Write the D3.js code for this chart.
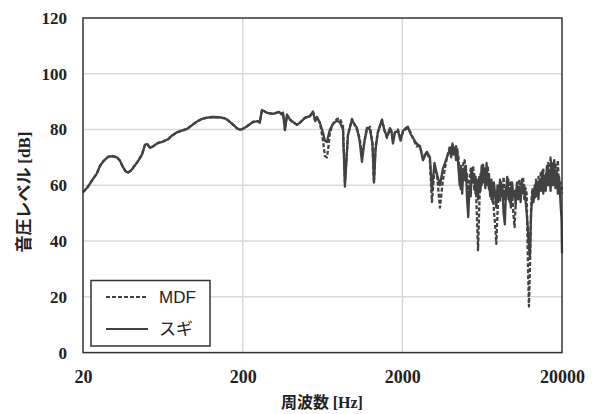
<!DOCTYPE html>
<html><head><meta charset="utf-8">
<script src="https://cdn.jsdelivr.net/npm/d3@7"></script>
<style>body{margin:0;background:#fff}svg{display:block}</style>
</head><body><div id="chart"></div>
<script>
const freqs = [20,21.5,23.1,24.3,25.6,27,28.7,30.5,32.7,34.1,35.6,37,38.3,39.8,41.1,44,46.8,48.9,50.5,52.6,55,59,63,68.1,72,77.6,83,89.6,96,103,111,120,130,144,155,162,172,184,192,200,213,232,249,256,264,284,310,338,350,358,368,379,396,413,438,457,491,528,551,570,584,610,637,655,674,690,704,735,779,814,850,874,913,967,1000,1039,1080,1117,1160,1200,1254,1300,1328,1360,1407,1491,1540,1602,1672,1710,1746,1800,1876,1950,2017,2090,2168,2250,2330,2450,2578,2692,2851,2977,3065,3180,3293,3440,3592,3805,
 3974,4045,4115,4190,4265,4340,4415,4495,4575,4655,4740,4825,4910,5000,5085,5175,5270,5360,5455,5555,5650,5750,5855,5960,6065,6170,6280,6390,6505,6620,6740,6860,6980,7100,7230,7355,7490,7620,7755,7890,8030,8175,8320,8465,8615,8770,8925,9080,9240,9405,9570,9740,9915,10090,10270,10450,10635,10820,11015,11210,11405,11610,11815,12020,12235,12410,12590,12810,13040,13270,13500,13740,13985,14230,14480,14740,15000,15265,15535,15810,16090,16375,16665,16960,17260,17565,17875,18190,18515,18840,19175,19515,19860,20000];
const sugi = [57.5,59.5,62.3,64,67,68.8,70.2,70.5,70,68.8,66.5,65,64.6,65.2,66.2,68.5,71,74.5,74.8,73.4,74,75.2,75.6,76.5,77.8,79,79.6,80.2,81.5,82.8,83.8,84.3,84.5,84.4,84,83.3,82,80.5,79.9,80.2,81.2,82.7,83,82.5,87,86,85.6,86.3,85.5,86,79.8,85.3,83.5,82.7,81.7,82.5,84.2,84.8,86.4,83,84.5,82.3,78.8,76,75.5,78,80,82,83.2,82.5,80,59.5,78,83.5,82,80.6,76,68.4,76,80.6,80,75,61,73,79.2,83.5,80,77.4,80.5,79.5,75,79,79.5,76,79.5,80.5,81,78.5,77,75,74,69,72,70,58,68,64,60,66,70,
 73,70,74.5,71,73.5,69,73,66,60,67,57,66,62,67,55,48.6,60,56,66,61,64,57,62,55,63,58,67,61,66,59,68,60,64,56,62,54,61,57,52,60,55,62,56,60,50,46,58,63,55,59,52,61,56,58,53,61,55,59,54,62,57,60,55,50,44,38,34,50,57,54,60,56,61,55,62,58,65,57,63,58,67,60,65,58,68,60,69,59,65,57,63,55,48,35.6];
const mdf = [57.5,59.5,62.3,64,67,68.8,70.2,70.5,70,68.8,66.5,65,64.6,65.2,66.2,68.5,71,74.5,74.8,73.4,74,75.2,75.6,76.5,77.8,79,79.6,80.2,81.5,82.8,83.8,84.3,84.5,84.4,84,83.3,82,80.5,79.9,80.2,81.2,82.7,83,82.5,87,86,85.6,86.3,85.5,86,79.8,85.3,83.5,82.7,81.7,82.5,84.2,84.8,86.4,83,84.5,82.3,76,70.5,70,74,79,82,83.8,84,81,61,78,83.8,82,80,77,71,76,80,81,75,61,74,79,83.5,80,77,80,79,76,79,80,77,79,80,80.5,79,77,74,74,70,72,69,54,66,64,52,62,70,
 74,72,75,73,71,74,72,70,64,58,62,68,69,61,64,56,61,66,62,67,58,63,50,36.7,52,64,60,68,62,66,63,67,58,62,55,60,51,46,39,50,58,54,61,57,63,55,60,57,62,54,61,58,50,45,54,60,56,62,57,60,63,55,59,57,32,16.5,30,52,59,57,55,62,57,63,58,65,60,66,58,64,60,68,62,70,63,66,61,68,60,69,58,61,60,57];
const yTicks = [0,20,40,60,80,100,120];
const xTicks = [20,200,2000,20000];
const seriesNames = ["MDF","スギ"];

const W=600,H=414, L=83,R=562,T=18,B=352.6;
const svg=d3.select("#chart").append("svg").attr("width",W).attr("height",H);
const x=d3.scaleLog().domain([20,20000]).range([L,R]);
const y=d3.scaleLinear().domain([0,120]).range([B,T]);
const grid="#d9d9d9", ink="#424242";
const serif="'Liberation Serif','Times New Roman',serif";

svg.append("g").selectAll("line").data(yTicks.slice(1,-1)).join("line")
  .attr("x1",L).attr("x2",R).attr("y1",d=>y(d)).attr("y2",d=>y(d))
  .attr("stroke",grid).attr("stroke-width",1.5);
svg.append("g").selectAll("line").data(xTicks.slice(1,-1)).join("line")
  .attr("x1",d=>x(d)).attr("x2",d=>x(d)).attr("y1",T).attr("y2",B)
  .attr("stroke",grid).attr("stroke-width",1.5);

const line=d3.line().x((d,i)=>x(freqs[i])).y(d=>y(d));
svg.append("path").attr("d",line(mdf)).attr("fill","none").attr("stroke",ink)
  .attr("stroke-width",2.3).attr("stroke-dasharray","4,2").attr("stroke-linejoin","round");
svg.append("path").attr("d",line(sugi)).attr("fill","none").attr("stroke",ink)
  .attr("stroke-width",2.3).attr("stroke-linejoin","round");

svg.append("rect").attr("x",L).attr("y",T).attr("width",R-L).attr("height",B-T)
  .attr("fill","none").attr("stroke","#333").attr("stroke-width",1.5);

const yAxis=d3.axisLeft(y).tickValues(yTicks).tickSize(0).tickPadding(16);
const gy=svg.append("g").attr("transform",`translate(${L},0)`).call(yAxis);
gy.select(".domain").remove();
gy.selectAll("text").style("font-family",serif).style("font-weight","bold")
  .style("font-size","17px").attr("fill","#222");
const xAxis=d3.axisBottom(x).tickValues(xTicks).tickFormat(d3.format("d")).tickSize(0);
const gx=svg.append("g").attr("transform",`translate(0,${B})`).call(xAxis);
gx.select(".domain").remove();
gx.selectAll("text").attr("y",30.5).attr("dy",null).style("font-family",serif).style("font-weight","bold")
  .style("font-size","18px").attr("fill","#222");

const xt=svg.append("text").attr("x",322).attr("y",408).attr("text-anchor","middle")
  .style("font-weight","bold").style("font-size","16px").attr("fill","#222");
xt.append("tspan").style("font-family","'Noto Sans CJK JP'").text("周波数 ");
xt.append("tspan").style("font-family",serif).text("[Hz]");
const yt=svg.append("text").attr("transform","translate(30,192) rotate(-90)").attr("text-anchor","middle")
  .style("font-weight","bold").style("font-size","17px").attr("fill","#222");
yt.append("tspan").style("font-family","'Noto Sans CJK JP'").text("音圧レベル ");
yt.append("tspan").style("font-family",serif).text("[dB]");

const lg=svg.append("g");
lg.append("rect").attr("x",91).attr("y",280.5).attr("width",119).attr("height",65.5)
  .attr("fill","#fff").attr("stroke","#333").attr("stroke-width",1.5);
seriesNames.forEach((n,i)=>{
  const yy=297+i*32;
  lg.append("line").attr("x1",106).attr("x2",148).attr("y1",yy).attr("y2",yy)
    .attr("stroke",ink).attr("stroke-width",2).attr("stroke-dasharray",i==0?"4,2":null);
  lg.append("text").attr("x",159).attr("y",yy+6).style("font-family","'Liberation Sans','Noto Sans CJK JP',sans-serif")
    .style("font-size","17px").attr("fill","#222").text(n);
});
</script></body></html>
